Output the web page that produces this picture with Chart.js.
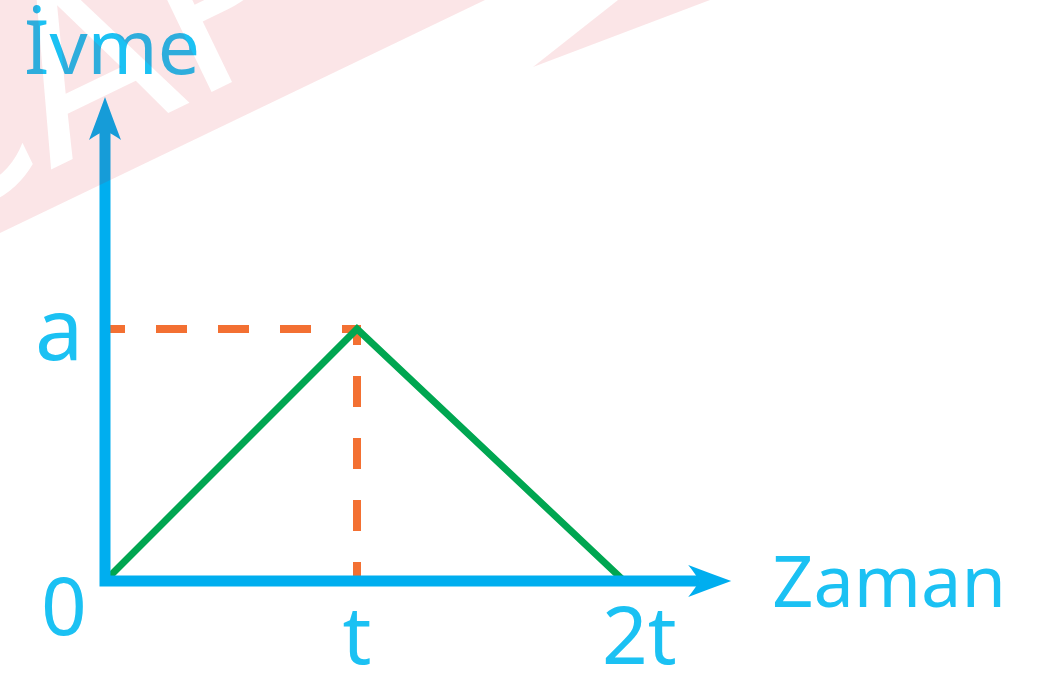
<!DOCTYPE html>
<html lang="tr">
<head>
<meta charset="utf-8">
<title>İvme - Zaman</title>
<script src="https://cdn.jsdelivr.net/npm/chart.js@4.4.1/dist/chart.umd.min.js"></script>
<style>
  html, body { margin: 0; padding: 0; background: #ffffff; }
  #wrap { width: 1045px; height: 673px; position: relative; }
</style>
</head>
<body>
<div id="wrap"><canvas id="graph"></canvas></div>
<script>
// --- data (t = 1, a = 1) ---
const timeValues = [0, 1, 2.06];
const accelValues = [0, 1, 0];
const guideTimes = [0, 1, 1];
const guideAccels = [1, 1, 0];
const xTickValues = [1, 2.12];
const xTickLabels = ['t', '2t'];
const yTickValues = [1];
const yTickLabels = ['a'];
const originLabel = '0';
const xAxisTitle = 'Zaman';
const yAxisTitle = 'İvme';
const xAxisEnd = 2.485;
const yAxisEnd = 1.92;

const AXIS_BLUE = '#00AEEF';
const TEXT_BLUE = '#1BC1F3';
const FONT = '"Noto Sans", "DejaVu Sans", sans-serif';

// axes with arrow heads + labels
const axesPlugin = {
    id: 'axes',
    afterDatasetsDraw(chart) {
        const ctx = chart.ctx;
        const xs = chart.scales.x;
        const ys = chart.scales.y;
        const ox = xs.getPixelForValue(0);
        const oy = ys.getPixelForValue(0);
        const xEnd = xs.getPixelForValue(xAxisEnd);
        const yEnd = ys.getPixelForValue(yAxisEnd);

        ctx.save();
        ctx.strokeStyle = AXIS_BLUE;
        ctx.fillStyle = AXIS_BLUE;
        ctx.lineWidth = 11;
        ctx.lineJoin = 'miter';
        ctx.lineCap = 'butt';
        ctx.beginPath();
        ctx.moveTo(ox, yEnd + 34);
        ctx.lineTo(ox, oy);
        ctx.lineTo(xEnd - 32, oy);
        ctx.stroke();

        // y arrow
        ctx.beginPath();
        ctx.moveTo(ox, yEnd);
        ctx.quadraticCurveTo(ox + 8, yEnd + 22, ox + 16, yEnd + 43);
        ctx.quadraticCurveTo(ox + 6, yEnd + 36, ox, yEnd + 34);
        ctx.quadraticCurveTo(ox - 6, yEnd + 36, ox - 16, yEnd + 43);
        ctx.quadraticCurveTo(ox - 8, yEnd + 22, ox, yEnd);
        ctx.closePath();
        ctx.fill();

        // x arrow
        ctx.beginPath();
        ctx.moveTo(xEnd, oy);
        ctx.quadraticCurveTo(xEnd - 22, oy - 8, xEnd - 43, oy - 16);
        ctx.quadraticCurveTo(xEnd - 35, oy - 6, xEnd - 32, oy);
        ctx.quadraticCurveTo(xEnd - 35, oy + 6, xEnd - 43, oy + 16);
        ctx.quadraticCurveTo(xEnd - 22, oy + 8, xEnd, oy);
        ctx.closePath();
        ctx.fill();

        // labels
        ctx.fillStyle = TEXT_BLUE;
        ctx.textBaseline = 'alphabetic';
        ctx.textAlign = 'center';
        ctx.font = '80px ' + FONT;
        xTickValues.forEach((v, i) => {
            ctx.fillText(xTickLabels[i], xs.getPixelForValue(v), oy + 83);
        });
        ctx.fillText(originLabel, ox - 41, oy + 54);
        ctx.font = '86px ' + FONT;
        yTickValues.forEach((v, i) => {
            ctx.fillText(yTickLabels[i], ox - 46, ys.getPixelForValue(v) + 31);
        });
        ctx.textAlign = 'left';
        ctx.font = '72px ' + FONT;
        ctx.fillText(xAxisTitle, xEnd + 41, oy + 26);
        ctx.font = '75px ' + FONT;
        ctx.fillText(yAxisTitle, ox - 81, yEnd - 23);
        ctx.restore();
    }
};

// faint watermark laid over the top-left corner
const watermarkPlugin = {
    id: 'watermark',
    afterDraw(chart) {
        const w = chart.width, h = chart.height;
        const off = document.createElement('canvas');
        off.width = w;
        off.height = h;
        const oc = off.getContext('2d');
        oc.fillStyle = 'rgb(215, 5, 25)';
        oc.beginPath();
        oc.moveTo(0, 0);
        oc.lineTo(485, 0);
        oc.lineTo(0, 233);
        oc.closePath();
        oc.fill();
        oc.beginPath();
        oc.moveTo(533, 67);
        oc.lineTo(618, 0);
        oc.lineTo(710, 0);
        oc.closePath();
        oc.fill();

        oc.globalCompositeOperation = 'destination-out';
        oc.save();
        oc.translate(-95, 240);
        oc.rotate(-0.45);
        oc.font = '230px "DejaVu Sans", sans-serif';
        oc.fillText('CAP', 0, 0);
        oc.restore();

        const ctx = chart.ctx;
        ctx.save();
        ctx.globalAlpha = 0.1;
        ctx.drawImage(off, 0, 0, w, h);
        ctx.restore();
    }
};

new Chart(document.getElementById('graph'), {
    type: 'line',
    data: {
        datasets: [{
            label: 'İvme',
            data: timeValues.map((t, i) => ({ x: t, y: accelValues[i] })),
            borderColor: '#00A651',
            borderWidth: 7,
            pointRadius: 0,
            tension: 0,
            clip: false
        }, {
            label: 'guide',
            data: guideTimes.map((t, i) => ({ x: t, y: guideAccels[i] })),
            borderColor: '#F37032',
            borderWidth: 8,
            borderDash: [31, 31],
            borderDashOffset: 11,
            pointRadius: 0,
            tension: 0,
            clip: false
        }]
    },
    options: {
        responsive: true,
        maintainAspectRatio: false,
        animation: false,
        events: [],
        layout: {
            padding: { left: 105, right: 310, top: 97, bottom: 92 }
        },
        plugins: {
            legend: { display: false },
            tooltip: { enabled: false }
        },
        scales: {
            x: { type: 'linear', min: 0, max: 2.5, display: false },
            y: { type: 'linear', min: 0, max: 1.92, display: false }
        }
    },
    plugins: [axesPlugin, watermarkPlugin]
});
</script>
</body>
</html>
